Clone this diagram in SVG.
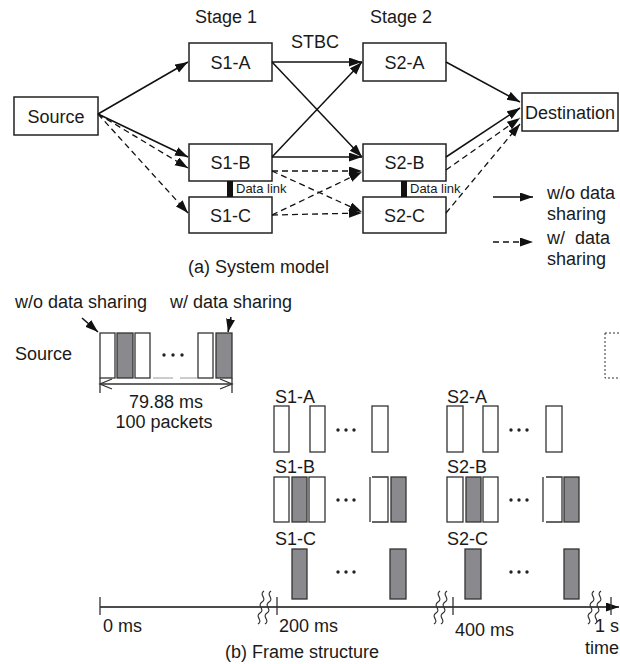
<svg xmlns="http://www.w3.org/2000/svg" width="620" height="664" viewBox="0 0 620 664">
<style>
text{font-family:"Liberation Sans",Arial,sans-serif;font-size:18px;fill:#1a1a1a}
.box{fill:#fff;stroke:#222;stroke-width:1.5}
.c{text-anchor:middle}
.e{text-anchor:end}
.sol{stroke:#111;stroke-width:1.5;fill:none}
.dash{stroke:#111;stroke-width:1.3;fill:none;stroke-dasharray:6,4}
.pw{fill:#fff;stroke:#333;stroke-width:1.3}
.pg{fill:#8a8a8e;stroke:#333;stroke-width:1.3}
.thin{stroke:#333;stroke-width:1.3;fill:none}
.dot{fill:#222}
.small{font-size:13px}
</style>
<defs>
<marker id="ah" markerUnits="userSpaceOnUse" markerWidth="14" markerHeight="10" refX="13" refY="4.5" orient="auto">
<path d="M0,0 L13,4.5 L0,9 z" fill="#111"/>
</marker>
</defs>

<!-- (a) System model -->
<text x="195" y="23">Stage 1</text>
<text x="370" y="23">Stage 2</text>
<text x="291" y="48">STBC</text>

<g id="source"><rect class="box" x="14" y="97" width="84" height="38"/><text class="c" x="56" y="123">Source</text></g>
<g id="s1a"><rect class="box" x="189" y="43" width="83" height="38"/><text class="c" x="230.5" y="69">S1-A</text></g>
<g id="s1b"><rect class="box" x="189" y="144" width="83" height="37"/><text class="c" x="230.5" y="169">S1-B</text></g>
<g id="s1c"><rect class="box" x="189" y="197" width="83" height="36"/><text class="c" x="230.5" y="222">S1-C</text></g>
<g id="s2a"><rect class="box" x="363" y="43" width="83" height="38"/><text class="c" x="404.5" y="69">S2-A</text></g>
<g id="s2b"><rect class="box" x="363" y="144" width="83" height="37"/><text class="c" x="404.5" y="169">S2-B</text></g>
<g id="s2c"><rect class="box" x="363" y="197" width="83" height="36"/><text class="c" x="404.5" y="222">S2-C</text></g>
<g id="dest"><rect class="box" x="522" y="93" width="96" height="38"/><text class="c" x="570" y="119">Destination</text></g>

<g id="datalink1"><rect x="227" y="181" width="6" height="16" fill="#111"/><text class="small" x="236" y="193">Data link</text></g>
<g id="datalink2"><rect x="401" y="181" width="6" height="16" fill="#111"/><text class="small" x="410" y="193">Data link</text></g>

<g id="connectors">
<line class="sol" x1="98" y1="114" x2="188" y2="62" marker-end="url(#ah)"/>
<line class="sol" x1="98" y1="114" x2="188" y2="157" marker-end="url(#ah)"/>
<line class="dash" x1="98" y1="114" x2="188" y2="168" marker-end="url(#ah)"/>
<line class="dash" x1="98" y1="114" x2="188" y2="213" marker-end="url(#ah)"/>
<line class="sol" x1="272" y1="62" x2="362" y2="62" marker-end="url(#ah)"/>
<line class="sol" x1="272" y1="62" x2="362" y2="157" marker-end="url(#ah)"/>
<line class="sol" x1="272" y1="157" x2="362" y2="62" marker-end="url(#ah)"/>
<line class="sol" x1="272" y1="157" x2="362" y2="157" marker-end="url(#ah)"/>
<line class="dash" x1="272" y1="171" x2="362" y2="171" marker-end="url(#ah)"/>
<line class="dash" x1="272" y1="171" x2="362" y2="212" marker-end="url(#ah)"/>
<line class="dash" x1="272" y1="215" x2="362" y2="172" marker-end="url(#ah)"/>
<line class="dash" x1="272" y1="215" x2="362" y2="213" marker-end="url(#ah)"/>
<line class="sol" x1="446" y1="62" x2="520" y2="102" marker-end="url(#ah)"/>
<line class="sol" x1="446" y1="157" x2="520" y2="108" marker-end="url(#ah)"/>
<line class="dash" x1="446" y1="170" x2="520" y2="118" marker-end="url(#ah)"/>
<line class="dash" x1="446" y1="213" x2="520" y2="124" marker-end="url(#ah)"/>
<!-- legend -->
<line class="sol" x1="493" y1="197" x2="533" y2="197" marker-end="url(#ah)"/>
<line class="dash" x1="493" y1="242" x2="533" y2="242" marker-end="url(#ah)"/>
<!-- frame pointers -->
<line class="sol" x1="82" y1="318" x2="98" y2="332" marker-end="url(#ah)"/>
<line class="sol" x1="231" y1="317" x2="228" y2="332" marker-end="url(#ah)"/>
</g>

<g id="legend">
<text x="547" y="199">w/o data</text>
<text x="547" y="220">sharing</text>
<text x="547" y="244" xml:space="preserve">w/  data</text>
<text x="547" y="265">sharing</text>
</g>
<text x="188" y="273">(a) System model</text>

<!-- (b) Frame structure -->
<text x="15" y="308">w/o data sharing</text>
<text x="170" y="308">w/ data sharing</text>
<text x="15" y="360">Source</text>

<g id="source-packets">
<rect class="pw" x="100" y="333" width="15" height="45"/>
<rect class="pg" x="117" y="333" width="16" height="45"/>
<rect class="pw" x="135" y="333" width="15" height="45"/>
<line x1="153" y1="378" x2="173" y2="378" stroke="#999" stroke-width="1"/>
<line x1="180" y1="378" x2="197" y2="378" stroke="#999" stroke-width="1"/>
<circle class="dot" cx="164" cy="355" r="1.7"/><circle class="dot" cx="173" cy="355" r="1.7"/><circle class="dot" cx="182" cy="355" r="1.7"/>
<rect class="pw" x="198" y="333" width="15" height="45"/>
<rect class="pg" x="216" y="333" width="16" height="45"/>
<line class="thin" x1="100" y1="378" x2="100" y2="393"/>
<line class="thin" x1="232" y1="378" x2="232" y2="393"/>
<line class="thin" x1="100" y1="384" x2="232" y2="384"/>
<polyline class="thin" points="112,379 100,384 112,389"/>
<polyline class="thin" points="220,379 232,384 220,389"/>
<text class="c" x="166" y="408">79.88 ms</text>
<text class="c" x="164" y="428">100 packets</text>
</g>
<rect x="605" y="333" width="30" height="45" fill="none" stroke="#333" stroke-width="1" stroke-dasharray="2,2"/>

<g id="s1a-frames">
<text x="275" y="403">S1-A</text>
<rect class="pw" x="274" y="406" width="15" height="46"/>
<rect class="pw" x="310" y="406" width="15" height="46"/>
<circle class="dot" cx="338" cy="430" r="1.7"/><circle class="dot" cx="346" cy="430" r="1.7"/><circle class="dot" cx="354" cy="430" r="1.7"/>
<rect class="pw" x="372" y="406" width="16" height="46"/>
</g>
<g id="s2a-frames">
<text x="447" y="403">S2-A</text>
<rect class="pw" x="447" y="406" width="16" height="46"/>
<rect class="pw" x="483" y="406" width="15" height="46"/>
<circle class="dot" cx="511" cy="430" r="1.7"/><circle class="dot" cx="519" cy="430" r="1.7"/><circle class="dot" cx="527" cy="430" r="1.7"/>
<rect class="pw" x="546" y="406" width="16" height="46"/>
</g>
<g id="s1b-frames">
<text x="275" y="473">S1-B</text>
<rect class="pw" x="274" y="477" width="15" height="45"/>
<rect class="pg" x="292" y="477" width="15" height="45"/>
<rect class="pw" x="309" y="477" width="16" height="45"/>
<circle class="dot" cx="338" cy="500" r="1.7"/><circle class="dot" cx="346" cy="500" r="1.7"/><circle class="dot" cx="354" cy="500" r="1.7"/>
<line class="thin" x1="370" y1="477" x2="370" y2="522"/>
<path class="thin" d="M372,477 H388 V522 H372"/>
<rect class="pg" x="391" y="477" width="15" height="45"/>
</g>
<g id="s2b-frames">
<text x="447" y="473">S2-B</text>
<rect class="pw" x="447" y="477" width="16" height="45"/>
<rect class="pg" x="466" y="477" width="15" height="45"/>
<rect class="pw" x="483" y="477" width="15" height="45"/>
<circle class="dot" cx="511" cy="500" r="1.7"/><circle class="dot" cx="519" cy="500" r="1.7"/><circle class="dot" cx="527" cy="500" r="1.7"/>
<line class="thin" x1="543" y1="477" x2="543" y2="522"/>
<path class="thin" d="M546,477 H562 V522 H546"/>
<rect class="pg" x="564" y="477" width="15" height="45"/>
</g>
<g id="s1c-frames">
<text x="275" y="545">S1-C</text>
<rect class="pg" x="292" y="549" width="15" height="50"/>
<circle class="dot" cx="338" cy="572" r="1.7"/><circle class="dot" cx="346" cy="572" r="1.7"/><circle class="dot" cx="354" cy="572" r="1.7"/>
<rect class="pg" x="390" y="549" width="16" height="50"/>
</g>
<g id="s2c-frames">
<text x="447" y="545">S2-C</text>
<rect class="pg" x="465" y="549" width="16" height="50"/>
<circle class="dot" cx="511" cy="572" r="1.7"/><circle class="dot" cx="519" cy="572" r="1.7"/><circle class="dot" cx="527" cy="572" r="1.7"/>
<rect class="pg" x="564" y="549" width="15" height="50"/>
</g>

<g id="time-axis">
<line class="sol" x1="100" y1="607" x2="619" y2="607" marker-end="url(#ah)"/>
<line class="thin" x1="100" y1="597" x2="100" y2="615"/>
<line class="thin" x1="277" y1="597" x2="277" y2="615"/>
<line class="thin" x1="453" y1="597" x2="453" y2="615"/>
<line class="thin" x1="611" y1="597" x2="611" y2="615"/>
<path class="thin" d="M264,591 c-6,4 4,7 -2,11 c-6,4 4,7 -2,11 c-6,4 4,7 -2,11"/>
<path class="thin" d="M271,591 c-6,4 4,7 -2,11 c-6,4 4,7 -2,11 c-6,4 4,7 -2,11"/>
<path class="thin" d="M440,591 c-6,4 4,7 -2,11 c-6,4 4,7 -2,11 c-6,4 4,7 -2,11"/>
<path class="thin" d="M447,591 c-6,4 4,7 -2,11 c-6,4 4,7 -2,11 c-6,4 4,7 -2,11"/>
<path class="thin" d="M594,591 c-6,4 4,7 -2,11 c-6,4 4,7 -2,11 c-6,4 4,7 -2,11"/>
<path class="thin" d="M601,591 c-6,4 4,7 -2,11 c-6,4 4,7 -2,11 c-6,4 4,7 -2,11"/>
<text x="103" y="632">0 ms</text>
<text x="279" y="632">200 ms</text>
<text x="455" y="636">400 ms</text>
<text class="e" x="619" y="632">1 s</text>
<text class="e" x="619" y="654">time</text>
</g>
<text x="225" y="658">(b) Frame structure</text>
</svg>
